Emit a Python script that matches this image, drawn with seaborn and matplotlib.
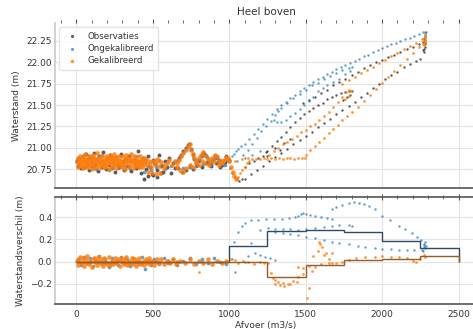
import numpy as np
import seaborn as sns
import matplotlib.pyplot as plt
from matplotlib.ticker import MultipleLocator

# --- data (afvoer m3/s, waterstand m) ---
obs_cloud = [(3, 20.84), (10, 20.79), (18, 20.88), (25, 20.82), (33, 20.76), (40, 20.90), (48, 20.85),
             (55, 20.78), (62, 20.93), (70, 20.81), (78, 20.87), (85, 20.74), (93, 20.89), (100, 20.83),
             (108, 20.77), (116, 20.94), (124, 20.80), (132, 20.86), (140, 20.73), (148, 20.91), (156, 20.84),
             (165, 20.78), (174, 20.95), (183, 20.82), (192, 20.75), (201, 20.88), (210, 20.80), (220, 20.92),
             (230, 20.76), (240, 20.85), (250, 20.72), (260, 20.89), (270, 20.81), (281, 20.77), (292, 20.93),
             (303, 20.84), (314, 20.74), (325, 20.87), (336, 20.79), (347, 20.91), (358, 20.73), (369, 20.86),
             (380, 20.82), (391, 20.76), (402, 20.96), (413, 20.80), (424, 20.71), (435, 20.88), (446, 20.83),
             (457, 20.75), (468, 20.90), (480, 20.78), (492, 20.69), (504, 20.86), (516, 20.81), (528, 20.74),
             (540, 20.92), (553, 20.79), (566, 20.72), (579, 20.85), (592, 20.77), (605, 20.88), (618, 20.70),
             (631, 20.82), (644, 20.76), (441, 20.64), (470, 20.67), (500, 20.68), (530, 20.66), (555, 20.70)]
obs_mid = [(655, 20.84), (670, 20.88), (685, 20.92), (700, 20.96), (715, 21.00), (728, 21.03), (737, 21.05),
           (748, 20.99), (760, 20.93), (772, 20.87), (785, 20.82), (800, 20.86), (815, 20.91), (830, 20.94),
           (845, 20.90), (860, 20.85), (875, 20.81), (890, 20.86), (905, 20.91), (920, 20.88), (935, 20.84),
           (950, 20.80), (965, 20.85), (980, 20.90), (995, 20.86), (665, 20.76), (690, 20.72), (715, 20.74),
           (740, 20.79), (765, 20.75), (790, 20.80), (820, 20.78), (850, 20.82), (880, 20.79), (910, 20.82),
           (940, 20.78), (970, 20.83)]
obs_high = [(1005, 20.76), (1020, 20.70), (1035, 20.66), (1050, 20.63), (1066, 20.61), (1080, 20.63),
            (1100, 20.64), (1140, 20.69), (1180, 20.74), (1220, 20.79), (1260, 20.84), (1300, 20.89),
            (1340, 20.94), (1380, 20.99), (1420, 21.04), (1460, 21.09), (1500, 21.14), (1540, 21.19),
            (1580, 21.24), (1620, 21.29), (1660, 21.34), (1700, 21.39), (1740, 21.44), (1780, 21.49),
            (1820, 21.54), (1860, 21.59), (1900, 21.64), (1940, 21.70), (1980, 21.75), (2020, 21.80),
            (2060, 21.85), (2100, 21.89), (2140, 21.94), (2180, 21.98), (2220, 22.02), (2245, 22.04),
            (1100, 20.78), (1130, 20.82), (1160, 20.85), (1190, 20.88), (1220, 20.91), (1250, 20.96),
            (1280, 21.02), (1310, 21.08), (1340, 21.13), (1370, 21.18), (1400, 21.24), (1430, 21.30),
            (1460, 21.35), (1490, 21.39), (1520, 21.43), (1550, 21.47), (1580, 21.50), (1610, 21.53),
            (1640, 21.57), (1670, 21.60), (1700, 21.62), (1730, 21.64), (1760, 21.65), (1785, 21.67),
            (1800, 21.66), (1790, 21.62), (1770, 21.59), (1745, 21.56),
            (1480, 21.52), (1520, 21.56), (1560, 21.60), (1600, 21.64), (1640, 21.68), (1680, 21.73),
            (1720, 21.77), (1760, 21.81), (1800, 21.85), (1840, 21.89), (1880, 21.93), (1920, 21.97),
            (1960, 22.00), (2000, 22.03), (2040, 22.06), (2080, 22.09), (2120, 22.12), (2160, 22.15),
            (2200, 22.18), (2240, 22.21), (2270, 22.24), (2272, 22.12), (2275, 22.15), (2278, 22.18),
            (2280, 22.21), (2283, 22.24), (2277, 22.27), (2265, 22.14), (1250, 20.90), (1300, 21.00),
            (1330, 20.98), (1360, 21.06), (1400, 21.10), (1240, 20.95)]

blue_cloud = [(5, 20.86), (20, 20.80), (35, 20.89), (50, 20.77), (65, 20.84), (80, 20.91), (95, 20.79),
              (110, 20.86), (125, 20.75), (140, 20.88), (155, 20.82), (170, 20.92), (185, 20.78), (200, 20.85),
              (215, 20.74), (230, 20.89), (245, 20.81), (260, 20.87), (275, 20.76), (290, 20.90), (305, 20.83),
              (320, 20.78), (335, 20.88), (350, 20.75), (365, 20.85), (380, 20.80), (395, 20.91), (410, 20.77),
              (425, 20.84), (440, 20.72), (455, 20.87), (470, 20.79), (485, 20.74), (500, 20.83), (520, 20.78),
              (540, 20.86), (560, 20.80), (580, 20.75), (600, 20.84), (620, 20.79), (640, 20.83)]
blue_mid = [(660, 20.85), (680, 20.90), (700, 20.95), (720, 21.00), (735, 21.03), (750, 20.97), (765, 20.91),
            (780, 20.86), (800, 20.84), (820, 20.90), (840, 20.93), (860, 20.88), (880, 20.83), (900, 20.87),
            (920, 20.91), (940, 20.86), (960, 20.81), (980, 20.86), (995, 20.84), (700, 20.76), (740, 20.78),
            (780, 20.79), (830, 20.81), (880, 20.80), (930, 20.82), (975, 20.80)]
blue_high = [(1000, 20.86), (1015, 20.90), (1030, 20.93), (1045, 20.96), (1060, 20.99), (1075, 21.02),
             (1100, 21.05), (1130, 21.10), (1160, 21.16), (1190, 21.22), (1220, 21.28), (1250, 21.34),
             (1280, 21.40), (1310, 21.45), (1340, 21.50), (1370, 21.54), (1400, 21.58), (1430, 21.62),
             (1460, 21.66), (1490, 21.70), (1520, 21.74), (1550, 21.77), (1580, 21.80), (1610, 21.83),
             (1640, 21.86), (1670, 21.89), (1700, 21.92), (1730, 21.94), (1760, 21.97), (1790, 21.99),
             (1820, 22.02), (1850, 22.04), (1880, 22.07), (1910, 22.09), (1940, 22.12), (1970, 22.14),
             (2000, 22.17), (2030, 22.19), (2060, 22.21), (2090, 22.23), (2120, 22.25), (2150, 22.27),
             (2180, 22.29), (2210, 22.31), (2240, 22.33), (2265, 22.35), (2280, 22.36),
             (1340, 21.46), (1380, 21.52), (1420, 21.58), (1460, 21.63), (1500, 21.68), (1540, 21.73),
             (1580, 21.76), (1620, 21.80), (1660, 21.84), (1700, 21.88), (1740, 21.91), (1780, 21.93),
             (1805, 21.94), (1790, 21.90), (1760, 21.86), (1720, 21.81), (1680, 21.77), (1640, 21.73),
             (1610, 21.70), (1580, 21.66), (1550, 21.60), (1520, 21.55), (1490, 21.50), (1460, 21.45),
             (1430, 21.41), (1400, 21.37), (1370, 21.33), (1340, 21.30), (1310, 21.30), (1295, 21.33),
             (1300, 21.38), (1320, 21.43), (1090, 20.92), (1120, 20.98), (1150, 21.05), (1180, 21.12),
             (1210, 21.20), (1240, 21.26), (1270, 21.31), (1050, 20.85), (1100, 20.88), (1150, 20.92),
             (1200, 20.96), (2275, 22.28), (2279, 22.31), (2283, 22.33), (2285, 22.35), (2280, 22.26)]

orange_cloud = [(2, 20.83), (8, 20.88), (13, 20.78), (19, 20.85), (24, 20.91), (30, 20.80), (35, 20.86),
                (41, 20.76), (46, 20.89), (52, 20.82), (57, 20.93), (63, 20.79), (68, 20.87), (74, 20.84),
                (79, 20.77), (85, 20.90), (90, 20.81), (96, 20.86), (101, 20.75), (107, 20.92), (112, 20.83),
                (118, 20.88), (123, 20.78), (129, 20.85), (134, 20.94), (140, 20.80), (145, 20.87), (151, 20.76),
                (156, 20.89), (162, 20.82), (167, 20.91), (173, 20.79), (178, 20.86), (184, 20.83), (189, 20.77),
                (195, 20.90), (200, 20.81), (206, 20.88), (211, 20.75), (217, 20.92), (222, 20.84), (228, 20.87),
                (233, 20.78), (239, 20.85), (244, 20.93), (250, 20.80), (255, 20.86), (261, 20.76), (266, 20.89),
                (272, 20.82), (277, 20.90), (283, 20.79), (288, 20.86), (294, 20.83), (299, 20.77), (305, 20.91),
                (310, 20.81), (316, 20.87), (321, 20.75), (327, 20.92), (332, 20.84), (338, 20.88), (343, 20.78),
                (349, 20.85), (354, 20.93), (360, 20.80), (365, 20.86), (371, 20.76), (376, 20.90), (382, 20.82),
                (387, 20.89), (393, 20.79), (398, 20.85), (404, 20.83), (409, 20.77), (415, 20.91), (420, 20.81),
                (426, 20.87), (431, 20.78), (437, 20.86), (442, 20.83), (448, 20.88), (460, 20.80), (472, 20.85),
                (485, 20.78), (498, 20.84), (512, 20.81), (525, 20.87), (540, 20.79), (556, 20.83), (572, 20.76),
                (590, 20.82), (608, 20.86), (625, 20.80), (642, 20.84), (470, 20.72), (495, 20.70), (520, 20.69),
                (545, 20.71), (15, 20.82), (60, 20.84), (110, 20.80), (160, 20.85), (210, 20.83), (260, 20.84),
                (310, 20.85), (360, 20.83), (410, 20.84), (50, 20.87), (100, 20.89), (150, 20.82), (200, 20.86),
                (250, 20.88), (300, 20.80), (350, 20.87), (400, 20.81), (450, 20.84), (27, 20.83), (77, 20.81),
                (127, 20.87), (177, 20.84), (227, 20.81), (277, 20.85), (327, 20.82), (377, 20.86), (427, 20.82),
                (38, 20.79), (88, 20.85), (138, 20.84), (188, 20.80), (238, 20.88), (288, 20.82), (338, 20.85),
                (388, 20.84), (438, 20.80), (480, 20.82), (530, 20.84), (580, 20.80)]
orange_mid = [(655, 20.82), (670, 20.86), (685, 20.90), (700, 20.94), (715, 20.98), (730, 21.02), (740, 21.04),
              (750, 20.98), (760, 20.93), (772, 20.88), (785, 20.84), (800, 20.88), (815, 20.92), (830, 20.95),
              (845, 20.91), (860, 20.87), (875, 20.84), (890, 20.88), (905, 20.92), (920, 20.89), (935, 20.85),
              (950, 20.82), (965, 20.86), (980, 20.89), (995, 20.84), (1010, 20.78), (1022, 20.72),
              (1034, 20.67), (1046, 20.63), (660, 20.78), (680, 20.74), (700, 20.72), (720, 20.76), (740, 20.80),
              (760, 20.77), (780, 20.82), (800, 20.80), (820, 20.84), (840, 20.82), (870, 20.80), (900, 20.83),
              (930, 20.80), (960, 20.84), (990, 20.88)]
orange_high = [(1058, 20.66), (1070, 20.70), (1085, 20.74), (1100, 20.78), (1115, 20.82), (1130, 20.85),
               (1150, 20.87), (1175, 20.87), (1200, 20.87), (1225, 20.88), (1250, 20.87), (1275, 20.88),
               (1300, 20.87), (1325, 20.88), (1350, 20.87), (1375, 20.88), (1400, 20.88), (1425, 20.87),
               (1450, 20.88), (1475, 20.88), (1495, 20.88), (1040, 20.85), (1080, 20.87), (1120, 20.88),
               (1260, 20.92), (1290, 20.96), (1320, 21.00), (1350, 21.04), (1380, 21.07), (1410, 21.10),
               (1440, 21.14), (1470, 21.18), (1500, 21.21), (1530, 21.25), (1560, 21.28), (1590, 21.32),
               (1620, 21.37), (1650, 21.42), (1680, 21.48), (1710, 21.54), (1740, 21.60), (1765, 21.65),
               (1785, 21.68), (1795, 21.66), (1780, 21.61), (1760, 21.57),
               (1500, 20.92), (1530, 20.97), (1560, 21.02), (1590, 21.07), (1620, 21.12), (1650, 21.17),
               (1680, 21.22), (1710, 21.27), (1740, 21.32), (1770, 21.37), (1800, 21.42), (1840, 21.48),
               (1880, 21.55), (1920, 21.62), (1960, 21.69), (2000, 21.76), (2040, 21.83), (2080, 21.90),
               (2120, 21.97), (2160, 22.04), (2200, 22.11), (2240, 22.18), (2265, 22.22),
               (1740, 21.75), (1780, 21.79), (1820, 21.83), (1860, 21.87), (1900, 21.91), (1940, 21.95),
               (1980, 21.99), (2020, 22.03), (2060, 22.07), (2100, 22.11), (2140, 22.15), (2180, 22.19),
               (2220, 22.23), (2260, 22.27), (2280, 22.30), (2275, 22.20), (2278, 22.23), (2281, 22.26),
               (2283, 22.28), (2279, 22.32), (2276, 22.25)]

# verschil model - observatie
blue_diff_low = [(10, 0.02), (30, -0.03), (50, 0.04), (70, -0.01), (90, 0.03), (110, -0.04), (130, 0.01),
                 (150, 0.05), (170, -0.02), (190, 0.02), (210, -0.05), (230, 0.03), (250, 0.0), (270, -0.03),
                 (290, 0.04), (310, -0.01), (330, 0.02), (350, -0.04), (370, 0.03), (390, 0.0), (410, -0.02),
                 (430, 0.04), (450, -0.07), (470, 0.01), (490, -0.03), (510, 0.02), (540, -0.02), (570, 0.03),
                 (600, -0.01), (630, 0.02), (660, -0.03), (700, 0.01), (740, 0.03), (780, -0.02), (820, 0.02),
                 (860, -0.01), (900, 0.03), (940, 0.0), (980, -0.02)]
blue_diff_high = [(1020, 0.02), (1040, -0.09),
                  (1030, 0.18), (1057, 0.27), (1080, 0.32), (1100, 0.35), (1140, 0.37), (1189, 0.375),
                  (1240, 0.38), (1290, 0.38), (1342, 0.385), (1390, 0.39), (1430, 0.40), (1452, 0.41),
                  (1470, 0.43), (1485, 0.44), (1500, 0.43), (1530, 0.42), (1562, 0.41), (1600, 0.40),
                  (1640, 0.39), (1671, 0.38),
                  (1671, 0.47), (1700, 0.49), (1740, 0.51), (1781, 0.53), (1815, 0.535), (1847, 0.53),
                  (1880, 0.52), (1913, 0.50), (1950, 0.47), (2000, 0.41), (2050, 0.37), (2110, 0.32),
                  (2150, 0.29), (2198, 0.26), (2230, 0.22), (2253, 0.196), (2275, 0.15),
                  (1200, 0.28), (1255, 0.30), (1300, 0.295), (1350, 0.29), (1400, 0.29), (1452, 0.287),
                  (1500, 0.29), (1560, 0.30), (1620, 0.31), (1671, 0.317), (1720, 0.325), (1781, 0.33),
                  (1800, 0.32),
                  (1300, 0.27), (1350, 0.26), (1400, 0.25), (1452, 0.24), (1500, 0.225), (1560, 0.21),
                  (1620, 0.195), (1671, 0.18), (1720, 0.17), (1780, 0.155), (1840, 0.145), (1891, 0.136),
                  (1950, 0.125), (2000, 0.118), (2060, 0.112), (2110, 0.106), (2160, 0.105), (2210, 0.105),
                  (2263, 0.106),
                  (1100, 0.0), (1120, 0.05), (1145, 0.166), (1167, 0.076), (1200, 0.06), (1232, 0.045),
                  (1265, 0.03), (1298, 0.015), (2270, 0.10), (2273, 0.13), (2276, 0.16), (2279, 0.18),
                  (2282, 0.12), (2285, 0.14)]
orange_diff_low = [(2, 0.01), (12, -0.03), (22, 0.04), (32, -0.01), (42, 0.03), (52, -0.04), (62, 0.02),
                   (72, 0.05), (82, -0.02), (92, 0.01), (102, -0.05), (112, 0.03), (122, 0.0), (132, -0.03),
                   (142, 0.04), (152, -0.01), (162, 0.02), (172, -0.04), (182, 0.03), (192, 0.0), (202, -0.02),
                   (212, 0.04), (222, -0.03), (232, 0.01), (242, -0.02), (252, 0.03), (262, -0.01), (272, 0.02),
                   (282, -0.04), (292, 0.03), (302, 0.0), (312, -0.02), (322, 0.04), (332, -0.03), (342, 0.01),
                   (352, -0.01), (362, 0.03), (372, -0.02), (382, 0.02), (392, -0.04), (402, 0.01), (412, 0.03),
                   (422, -0.02), (432, 0.0), (442, -0.03), (452, 0.02), (462, -0.01), (472, 0.03), (482, -0.02),
                   (495, 0.01), (510, -0.03), (525, 0.02), (540, -0.01), (555, 0.02), (570, -0.02), (590, 0.01),
                   (610, -0.01), (630, 0.02), (650, -0.02), (680, 0.01), (710, -0.01), (740, 0.02), (770, -0.02),
                   (800, 0.01), (830, -0.01), (860, 0.02), (890, -0.02), (920, 0.01), (950, -0.01), (980, 0.01),
                   (40, 0.0), (90, 0.0), (140, 0.01), (190, -0.01), (240, 0.0), (290, 0.01), (340, -0.01),
                   (390, 0.0), (440, 0.01), (490, 0.0), (17, 0.02), (67, -0.01), (117, 0.02), (167, 0.0),
                   (217, -0.01), (267, 0.01), (317, 0.02), (367, 0.0), (417, -0.01), (467, 0.01), (520, 0.0),
                   (600, 0.01), (660, 0.0)]
orange_diff_high = [(800, -0.09),
                    (1010, 0.02), (1035, 0.015), (1060, -0.01), (1090, 0.01), (1123, 0.0), (1160, -0.02),
                    (1200, 0.0), (1230, -0.01), (1255, -0.015), (1270, -0.10), (1285, -0.15), (1298, -0.166),
                    (1320, -0.18), (1350, -0.19), (1386, -0.196), (1420, -0.17), (1452, -0.136), (1480, -0.11),
                    (1507, -0.33), (1520, -0.24), (1540, -0.08), (1562, -0.045), (1584, 0.18), (1595, 0.16),
                    (1606, 0.136), (1630, 0.08), (1650, 0.02), (1671, -0.015), (1700, -0.01), (1740, 0.0),
                    (1781, 0.015), (1830, 0.03), (1891, 0.045), (1950, 0.045), (2000, 0.05), (2060, 0.045),
                    (2110, 0.045), (2160, 0.03), (2200, 0.01), (2220, 0.0), (2250, 0.02), (2275, 0.06),
                    (2280, 0.04), (1300, -0.20), (1330, -0.21), (1360, -0.22), (1400, -0.20), (1440, -0.18),
                    (1450, -0.05), (1480, -0.06), (1520, -0.04), (1600, -0.02), (1650, -0.01), (1550, 0.05),
                    (1580, 0.10), (1620, 0.06), (1671, 0.076)]

# gemiddeld verschil per klasse van 250 m3/s
bin_edges = [0, 250, 500, 750, 1000, 1250, 1500, 1750, 2000, 2250, 2500]
blue_mean = [0.0, 0.0, 0.0, 0.0, 0.14, 0.278, 0.284, 0.266, 0.187, 0.127]
orange_mean = [0.0, 0.0, 0.0, 0.0, 0.0, -0.141, -0.027, 0.015, 0.027, 0.052]


def unzip(*segments):
    pts = np.array([p for seg in segments for p in seg])
    return pts[:, 0], pts[:, 1]


sns.set_theme(style='whitegrid')
plt.rcParams['font.family'] = ['DejaVu Sans']

c_obs = '#333333'
c_blue = '#1f77b4'
c_orange = '#ff7f0e'

fig = plt.figure(figsize=(4.73, 3.29), dpi=100)
ax1 = fig.add_axes([0.1163, 0.4286, 0.892, 0.5015])
ax2 = fig.add_axes([0.1163, 0.076, 0.892, 0.325])

# bovenste paneel: waterstand
x, y = unzip(obs_cloud, obs_mid)
sns.scatterplot(x=x, y=y, ax=ax1, s=8, color=c_obs, alpha=0.8, linewidth=0)
x, y = unzip(obs_high)
sns.scatterplot(x=x, y=y, ax=ax1, s=3, color=c_obs, alpha=0.8, linewidth=0, label='Observaties')
x, y = unzip(blue_cloud, blue_mid)
sns.scatterplot(x=x, y=y, ax=ax1, s=7, color=c_blue, alpha=0.7, linewidth=0)
x, y = unzip(blue_high)
sns.scatterplot(x=x, y=y, ax=ax1, s=3, color=c_blue, alpha=0.7, linewidth=0, label='Ongekalibreerd')
x, y = unzip(orange_cloud, orange_mid)
sns.scatterplot(x=x, y=y, ax=ax1, s=11, color=c_orange, alpha=0.85, linewidth=0)
x, y = unzip(orange_high)
sns.scatterplot(x=x, y=y, ax=ax1, s=4, color=c_orange, alpha=0.8, linewidth=0, label='Gekalibreerd')

# onderste paneel: verschil
x, y = unzip(blue_diff_low)
sns.scatterplot(x=x, y=y, ax=ax2, s=7, color=c_blue, alpha=0.7, linewidth=0)
x, y = unzip(blue_diff_high)
sns.scatterplot(x=x, y=y, ax=ax2, s=3, color=c_blue, alpha=0.7, linewidth=0)
x, y = unzip(orange_diff_low)
sns.scatterplot(x=x, y=y, ax=ax2, s=11, color=c_orange, alpha=0.85, linewidth=0)
x, y = unzip(orange_diff_high)
sns.scatterplot(x=x, y=y, ax=ax2, s=4, color=c_orange, alpha=0.8, linewidth=0)
ax2.stairs(blue_mean, bin_edges, color='#2b4a67', linewidth=1.0)
ax2.stairs(orange_mean, bin_edges, color='#9a5a25', linewidth=1.0)

ax1.set_title('Heel boven', fontsize=7.5, color='#333333', pad=6)
ax1.set_ylabel('Waterstand (m)', fontsize=6.5, color='#333333')
ax2.set_ylabel('Waterstandsverschil (m)', fontsize=6.5, color='#333333')
ax2.set_xlabel('Afvoer (m3/s)', fontsize=6.5, color='#333333', labelpad=2)

for ax in (ax1, ax2):
    ax.set_xlim(-140, 2620)
    ax.xaxis.set_major_locator(MultipleLocator(500))
    ax.xaxis.set_minor_locator(MultipleLocator(100))
    ax.grid(True, which='major', color='#e4e4e4', linewidth=0.8)
    ax.tick_params(axis='both', labelsize=6.5, colors='#333333', length=0, pad=2)
    ax.spines['left'].set_color('#cccccc')
    ax.spines['right'].set_visible(False)
    ax.spines['bottom'].set_color('#555555')
    ax.spines['bottom'].set_linewidth(1.2)

ax1.set_ylim(20.53, 22.46)
ax1.yaxis.set_major_locator(MultipleLocator(0.25))
ax1.spines['top'].set_visible(False)
ax1.tick_params(axis='x', which='both', bottom=False, labelbottom=False, top=True, direction='out',
                color='#555555')
ax1.tick_params(axis='x', which='major', length=3, width=0.8)
ax1.tick_params(axis='x', which='minor', length=2, width=0.6)

ax2.set_ylim(-0.38, 0.58)
ax2.yaxis.set_major_locator(MultipleLocator(0.2))
ax2.spines['top'].set_color('#555555')
ax2.spines['top'].set_linewidth(1.2)
ax2.tick_params(axis='x', which='both', bottom=False, top=True, labelbottom=True, direction='inout',
                color='#555555')
ax2.tick_params(axis='x', which='major', length=4, width=0.8)
ax2.tick_params(axis='x', which='minor', length=3, width=0.6)

leg = ax1.legend(loc='upper left', fontsize=6.2, markerscale=1.3, frameon=True, borderpad=0.5,
                 labelspacing=0.4, handletextpad=0.8)
leg.get_frame().set_edgecolor('#dddddd')
for t in leg.get_texts():
    t.set_color('#333333')

fig.savefig('out.png', dpi=100)
